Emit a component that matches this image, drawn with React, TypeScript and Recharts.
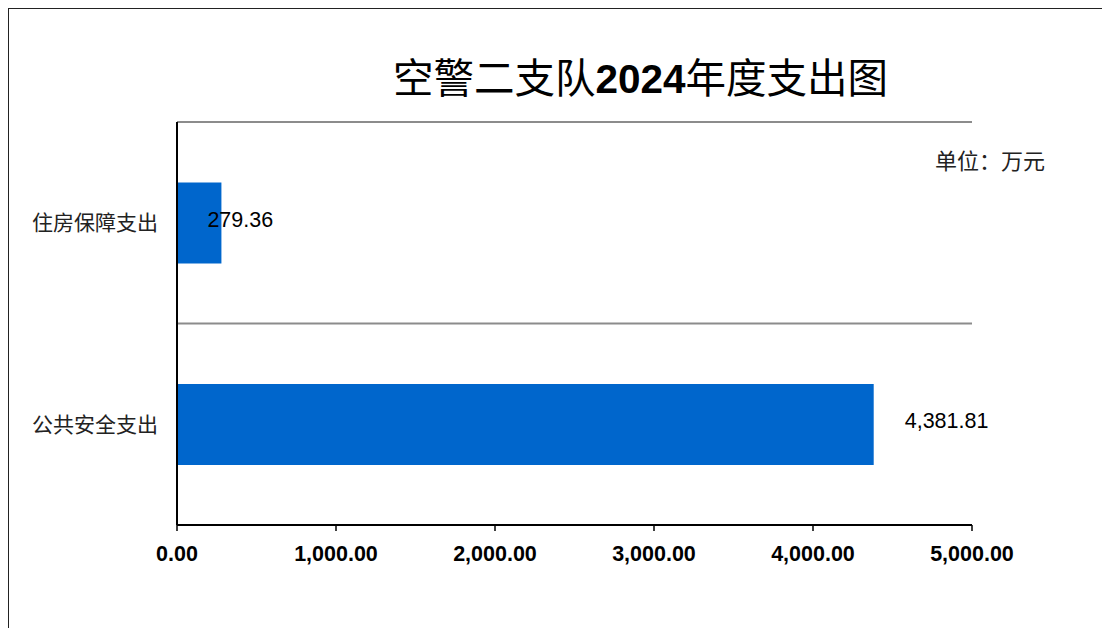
import React from 'react';
import { BarChart, Bar, XAxis, YAxis, CartesianGrid, LabelList } from 'recharts';

const categories = ['住房保障支出', '公共安全支出'];
const amounts = [279.36, 4381.81];
const xTicks = [0, 1000, 2000, 3000, 4000, 5000];
const titleCn1 = '空警二支队';
const titleYear = '2024';
const titleCn2 = '年度支出图';
const unitText = '单位：万元';

const data = categories.map((name, i) => ({ name, value: amounts[i] }));

const fmt2 = (v: number) =>
  v.toLocaleString('en-US', { minimumFractionDigits: 2, maximumFractionDigits: 2 });

const CJK = '"Noto Sans CJK SC", "Noto Sans", sans-serif';
const LAT = '"Liberation Sans", Arial, sans-serif';

const ValueLabel = (props: any) => {
  const { x, y, width, height, value, index } = props;
  const shift = index === 0 ? -14 : 31;
  return (
    <text
      x={Number(x) + Number(width) + shift}
      y={Number(y) + Number(height) / 2 - 3}
      dominantBaseline="central"
      textAnchor="start"
      fontFamily={LAT}
      fontSize={21.5}
      fill="#000"
    >
      {fmt2(Number(value))}
    </text>
  );
};

export default function App() {
  return (
    <div
      style={{
        position: 'relative',
        width: 1110,
        height: 630,
        borderTop: '2px solid #222',
        borderLeft: '2px solid #222',
        boxSizing: 'border-box',
        marginTop: -1,
        marginLeft: -1,
      }}
    >
      <div
        style={{
          position: 'absolute',
          left: 384,
          top: 39,
          whiteSpace: 'nowrap',
          fontSize: 40.5,
          lineHeight: '56px',
          color: '#000',
          fontFamily: CJK,
        }}
      >
        <span>{titleCn1}</span>
        <span style={{ fontFamily: LAT, fontWeight: 'bold' }}>{titleYear}</span>
        <span>{titleCn2}</span>
      </div>
      <div
        style={{
          position: 'absolute',
          left: 926,
          top: 136,
          whiteSpace: 'nowrap',
          fontSize: 22,
          lineHeight: '28px',
          color: '#222',
          fontFamily: CJK,
        }}
      >
        {unitText}
      </div>
      <div style={{ position: 'absolute', left: 0, top: 0 }}>
        <BarChart
          width={1100}
          height={618}
          data={data}
          layout="vertical"
          margin={{ top: 113, right: 137, left: 18, bottom: 62 }}
          barCategoryGap="30%"
        >
          <CartesianGrid
            vertical={false}
            stroke="#8c8c8c"
            strokeWidth={2}
            horizontalCoordinatesGenerator={(p: any) => [
              p.offset.top,
              p.offset.top + p.offset.height / 2,
            ]}
          />
          <XAxis
            type="number"
            domain={[0, 5000]}
            ticks={xTicks}
            tickFormatter={fmt2}
            axisLine={{ stroke: '#000', strokeWidth: 2 }}
            tickLine={{ stroke: '#000', strokeWidth: 1.5 }}
            tickSize={6}
            tickMargin={15}
            height={40}
            tick={{ fontFamily: LAT, fontSize: 21.5, fontWeight: 'bold', fill: '#000' }}
            interval={0}
          />
          <YAxis
            type="category"
            dataKey="name"
            width={150}
            axisLine={{ stroke: '#000', strokeWidth: 2 }}
            tickLine={false}
            tickSize={0}
            tickMargin={19}
            tick={{ fontFamily: CJK, fontSize: 21, fill: '#222' }}
          />
          <Bar dataKey="value" fill="#0066CC" isAnimationActive={false}>
            <LabelList dataKey="value" content={<ValueLabel />} />
          </Bar>
        </BarChart>
      </div>
    </div>
  );
}
